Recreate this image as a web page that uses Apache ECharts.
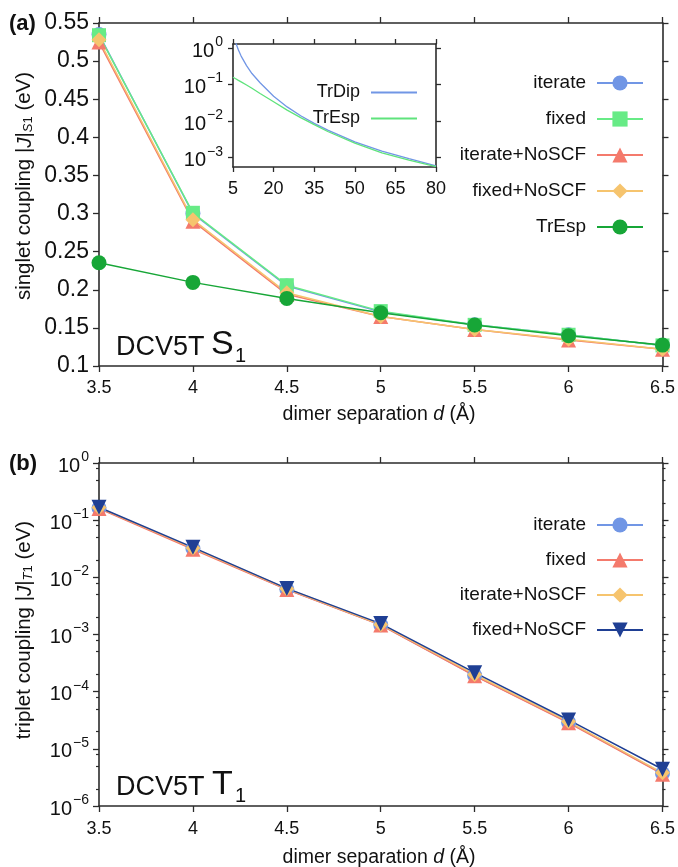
<!DOCTYPE html>
<html><head><meta charset="utf-8">
<script src="https://cdn.jsdelivr.net/npm/echarts@6/dist/echarts.min.js"></script>
<style>html,body{margin:0;padding:0;background:#fff}#c{width:678px;height:867px}</style>
</head><body><div id="c"></div>
<script>
// ---------- data ----------
const separations = [3.5, 4, 4.5, 5, 5.5, 6, 6.5];
// panel (a): singlet coupling (eV)
const sIterate      = [0.535, 0.300, 0.205, 0.171, 0.154, 0.141, 0.127];
const sFixed        = [0.534, 0.301, 0.206, 0.172, 0.154, 0.141, 0.127];
const sIterateNo    = [0.525, 0.290, 0.194, 0.165, 0.148, 0.134, 0.122];
const sFixedNo      = [0.528, 0.292, 0.196, 0.165, 0.148, 0.135, 0.122];
const sTrEsp        = [0.2355, 0.2097, 0.1887, 0.1698, 0.1537, 0.1397, 0.1274];
// inset: long-range coupling (eV) vs separation
const insetR     = [5, 6, 7, 8, 10, 12, 15, 20, 25, 30, 35, 40, 50, 60, 70, 80];
const insetTrDip = [2.4, 1.40, 0.88, 0.60, 0.33, 0.20, 0.112, 0.048, 0.0245, 0.0140, 0.0087, 0.0057, 0.0027, 0.00152, 0.00094, 0.00060];
const insetTrEsp = [0.158, 0.144, 0.130, 0.118, 0.097, 0.079, 0.057, 0.034, 0.020, 0.0125, 0.0080, 0.0052, 0.0025, 0.00135, 0.00086, 0.00057];
// panel (b): triplet coupling (eV)
const tIterate   = [0.163, 0.032, 0.0062, 0.00148, 0.000192, 2.9e-5, 3.7e-6];
const tFixed     = [0.160, 0.031, 0.0061, 0.00146, 0.000190, 2.85e-5, 3.6e-6];
const tIterateNo = [0.166, 0.0325, 0.0063, 0.00150, 0.000200, 3.0e-5, 3.8e-6];
const tFixedNo   = [0.168, 0.0335, 0.0064, 0.00155, 0.000215, 3.2e-5, 4.4e-6];
// tick labels
const insetXTicks = [5, 20, 35, 50, 65, 80];
const insetYExps  = [-3, -2, -1, 0];
const tripletExps = [-6, -5, -4, -3, -2, -1, 0];
const minorMult   = [2, 5, 8];

// ---------- helpers ----------
const FONT = 'Liberation Sans, Arial, Helvetica, sans-serif';
const AX = '#2b2b2b';
const C = {blue:'#7196E5', lgreen:'#67EB86', salmon:'#F47A6C', orange:'#F6C46E', dgreen:'#17A637', navy:'#1F3F94'};
const lg = v => Math.log10(v);
const pairs = (xs, ys, f) => xs.map((x, i) => [x, f ? f(ys[i]) : ys[i]]);
const minorVals = [];
tripletExps.forEach(e => { if (e < 0) minorMult.forEach(m => minorVals.push(e + lg(m))); });
const supFmt = v => { const e = Math.round(v); return '{b|10}{s|' + (e < 0 ? '\u2212' + (-e) : e) + '}'; };
const supRich = {b:{fontSize:20, lineHeight:26, verticalAlign:'bottom', fontFamily:FONT, color:'#111'},
                 s:{fontSize:14, lineHeight:14, verticalAlign:'top', fontFamily:FONT, color:'#111', padding:[0,0,0,1]}};

function axisBase(extra) {
  return Object.assign({
    type:'value', splitLine:{show:false},
    axisLine:{show:true, onZero:false, lineStyle:{color:AX, width:1.6}},
    axisTick:{show:true, inside:false, length:6, lineStyle:{color:AX, width:1.3}},
    axisLabel:{show:false}
  }, extra);
}
const lbl = (o) => Object.assign({show:true, fontFamily:FONT, fontSize:18, color:'#111', margin:10}, o);

const xAxis = [
  axisBase({gridIndex:0, position:'bottom', min:3.5, max:6.5, interval:0.5, axisLabel:lbl({margin:13})}),
  axisBase({gridIndex:0, position:'top', min:3.5, max:6.5, interval:0.5}),
  axisBase({gridIndex:1, position:'bottom', min:5, max:80,
    axisTick:{show:true, length:5, customValues:insetXTicks, lineStyle:{color:AX, width:1.3}},
    axisLabel:lbl({customValues:insetXTicks, margin:13})}),
  axisBase({gridIndex:1, position:'top', min:5, max:80,
    axisTick:{show:true, length:5, customValues:insetXTicks, lineStyle:{color:AX, width:1.3}}}),
  axisBase({gridIndex:2, position:'bottom', min:3.5, max:6.5, interval:0.5, axisLabel:lbl({margin:14})}),
  axisBase({gridIndex:2, position:'top', min:3.5, max:6.5, interval:0.5})
];
const yAxis = [
  axisBase({gridIndex:0, position:'left', min:0.1, max:0.55, interval:0.05,
    axisLabel:lbl({fontSize:23, formatter:v => String(+v.toFixed(2))})}),
  axisBase({gridIndex:0, position:'right', min:0.1, max:0.55, interval:0.05}),
  axisBase({gridIndex:1, position:'left', min:-3.254, max:0.109,
    axisTick:{show:true, length:5, customValues:insetYExps, lineStyle:{color:AX, width:1.3}},
    axisLabel:lbl({customValues:insetYExps, formatter:supFmt, rich:supRich, margin:10})}),
  axisBase({gridIndex:1, position:'right', min:-3.254, max:0.109,
    axisTick:{show:true, length:5, customValues:insetYExps, lineStyle:{color:AX, width:1.3}}}),
  axisBase({gridIndex:2, position:'left', min:-6, max:0, interval:1,
    axisLabel:lbl({formatter:supFmt, rich:supRich})}),
  axisBase({gridIndex:2, position:'right', min:-6, max:0, interval:1}),
  axisBase({gridIndex:2, position:'left', min:-6, max:0, axisLine:{show:false},
    axisTick:{show:true, length:3, customValues:minorVals, lineStyle:{color:AX, width:1.2}}}),
  axisBase({gridIndex:2, position:'right', min:-6, max:0, axisLine:{show:false},
    axisTick:{show:true, length:3, customValues:minorVals, lineStyle:{color:AX, width:1.2}}})
];

function ser(name, xi, yi, data, color, symbol, extra) {
  return Object.assign({
    name, type:'line', xAxisIndex:xi, yAxisIndex:yi, data,
    symbol, symbolSize:15, showSymbol:true, showAllSymbol:true,
    lineStyle:{color, width:1.5}, itemStyle:{color, opacity:1},
    emphasis:{disabled:true}, clip:true, z:3
  }, extra || {});
}

const series = [
  ser('a:iterate', 0, 0, pairs(separations, sIterate), C.blue, 'circle'),
  ser('a:fixed', 0, 0, pairs(separations, sFixed), C.lgreen, 'rect', {symbolSize:14}),
  ser('a:iterate+NoSCF', 0, 0, pairs(separations, sIterateNo), C.salmon, 'triangle'),
  ser('a:fixed+NoSCF', 0, 0, pairs(separations, sFixedNo), C.orange, 'diamond'),
  ser('a:TrEsp', 0, 0, pairs(separations, sTrEsp), C.dgreen, 'circle'),
  ser('i:TrDip', 2, 2, pairs(insetR, insetTrDip, lg), C.blue, 'none', {lineStyle:{color:C.blue, width:1.3}}),
  ser('i:TrEsp', 2, 2, pairs(insetR, insetTrEsp, lg), '#5FE37C', 'none', {lineStyle:{color:'#5FE37C', width:1.3}}),
  ser('b:iterate', 4, 4, pairs(separations, tIterate, lg), C.blue, 'circle'),
  ser('b:fixed', 4, 4, pairs(separations, tFixed, lg), C.salmon, 'triangle'),
  ser('b:iterate+NoSCF', 4, 4, pairs(separations, tIterateNo, lg), C.orange, 'diamond'),
  ser('b:fixed+NoSCF', 4, 4, pairs(separations, tFixedNo, lg), C.navy, 'triangle', {symbolRotate:180})
];

const strip = n => n.replace(/^[abi]:/, '');
const legendBase = {
  orient:'vertical', align:'right', padding:0, itemWidth:46, itemHeight:19,
  formatter:strip, selectedMode:false, inactiveColor:'#ccc',
  textStyle:{fontFamily:FONT, fontSize:19, color:'#111', padding:[0,6,0,0]}
};
const legend = [
  Object.assign({}, legendBase, {right:34, top:73.5, itemGap:17,
    data:['a:iterate','a:fixed','a:iterate+NoSCF','a:fixed+NoSCF','a:TrEsp']}),
  Object.assign({}, legendBase, {right:261, top:83.5, itemGap:8, itemHeight:2, icon:'rect',
    textStyle:{fontFamily:FONT, fontSize:18, color:'#111', padding:[0,6,0,0]},
    data:['i:TrDip','i:TrEsp']}),
  Object.assign({}, legendBase, {right:34, top:515.5, itemGap:16,
    data:['b:iterate','b:fixed','b:iterate+NoSCF','b:fixed+NoSCF']})
];

const txt = (x, y, text, o) => ({type:'text', x, y, z:10, silent:true,
  style:Object.assign({text, fontFamily:FONT, fill:'#111', fontSize:18, align:'left', verticalAlign:'middle'}, o)});
const mkRich = (fs) => ({
  n:{fontFamily:FONT, fontSize:fs, lineHeight:fs+6, verticalAlign:'bottom', fill:'#111'},
  i:{fontFamily:FONT, fontSize:fs, fontStyle:'italic', lineHeight:fs+6, verticalAlign:'bottom', fill:'#111'},
  si:{fontFamily:FONT, fontSize:13, fontStyle:'italic', lineHeight:11, verticalAlign:'bottom', fill:'#111'},
  s:{fontFamily:FONT, fontSize:13, lineHeight:11, verticalAlign:'bottom', fill:'#111'}
});
const yRich = mkRich(20.5), xRich = mkRich(19.5);
const graphic = [
  txt(9, 24, '(a)', {fontSize:22, fontWeight:'bold'}),
  txt(9, 464, '(b)', {fontSize:22, fontWeight:'bold'}),
  Object.assign(txt(22, 186, '{n|singlet coupling |}{i|J}{n||}{si|S}{s|1}{n| (eV)}', {align:'center', rich:yRich}), {rotation:Math.PI/2}),
  Object.assign(txt(22, 630, '{n|triplet coupling |}{i|J}{n||}{si|T}{s|1}{n| (eV)}', {align:'center', rich:yRich}), {rotation:Math.PI/2}),
  txt(379, 412, '{n|dimer separation }{i|d}{n| (\u00c5)}', {align:'center', rich:xRich}),
  txt(379, 855, '{n|dimer separation }{i|d}{n| (\u00c5)}', {align:'center', rich:xRich}),
  txt(116, 348, 'DCV5T', {fontSize:27}),
  txt(211, 345, 'S', {fontSize:34}),
  txt(235, 356, '1', {fontSize:20}),
  txt(116, 788, 'DCV5T', {fontSize:27}),
  txt(212, 785, 'T', {fontSize:34}),
  txt(235, 796, '1', {fontSize:20})
];

const chart = echarts.init(document.getElementById('c'), null, {renderer:'canvas'});
chart.setOption({
  animation:false, backgroundColor:'#fff',
  grid:[
    {left:99, top:23, width:564, height:343},
    {left:233, top:44, width:203, height:123},
    {left:99, top:463, width:564, height:343}
  ],
  xAxis, yAxis, series, legend, graphic
});
</script></body></html>
